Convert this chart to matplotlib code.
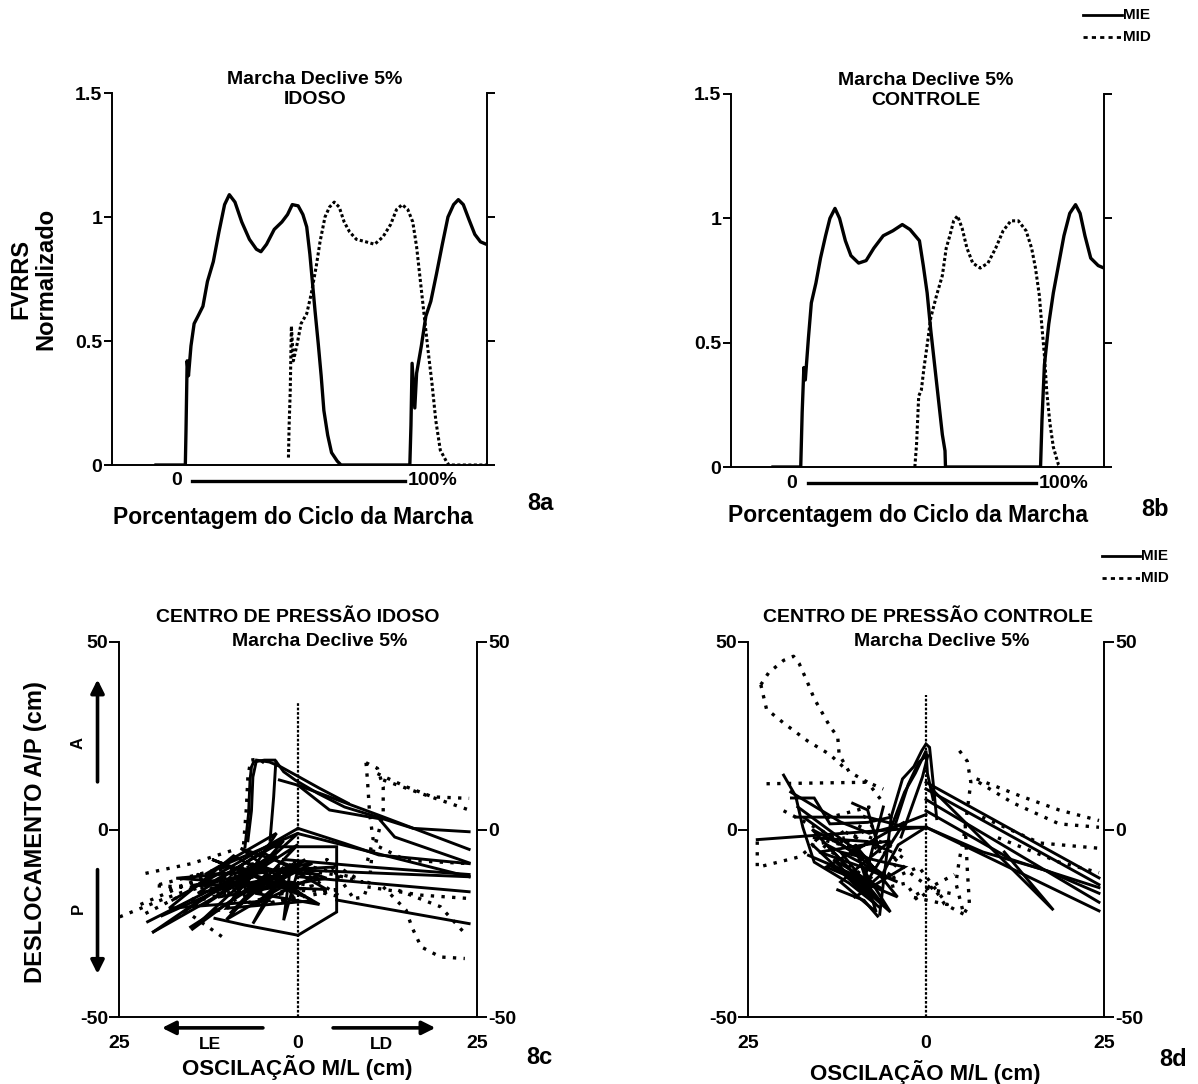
import matplotlib.pyplot as plt
import matplotlib.transforms as mtransforms
from matplotlib.lines import Line2D

plt.rcParams['font.family'] = ['Liberation Sans', 'DejaVu Sans']
plt.rcParams['font.weight'] = 'bold'

W, H = 1198, 1084

# ---------------- 8a : FVRRS normalizado, idoso (x = % do ciclo) ----------------
a_mie_x = [-13, 0, 0.3, 0.8, 1.4, 2.5, 3.9, 5.6, 7.8, 9.8, 12.4, 14.9, 17.4, 19.5, 22,
           25, 28.4, 31.5, 33.5, 36, 39.4, 42.8, 45.3, 47.4, 50, 52.1, 53.8, 55.2, 56.3, 57.5,
           58.9, 60.2, 61.4, 63.1, 64.8, 67.3, 69, 99.5, 100, 100.5, 101.7, 102.5, 104.6, 106.6, 108.8,
           111.3, 113.9, 116.4, 118.9, 121, 123.2, 125.7, 128.3, 130.8, 133.4]
a_mie_y = [0, 0, .14, .42, .36, .48, .57, .60, .64, .74, .82, .94, 1.05, 1.09, 1.06,
           .98, .91, .87, .86, .89, .95, .98, 1.01, 1.05, 1.045, 1.01, .96, .85, .74, .62,
           .49, .36, .22, .12, .05, .016, 0, 0, .16, .41, .23, .37, .48, .60, .66,
           .77, .89, 1.0, 1.05, 1.07, 1.05, .99, .93, .90, .89]
a_mid_x = [45.7, 46, 46.5, 47, 47.9, 49.6, 51.3, 53.8, 55.8, 58, 59.7, 61.9, 63.9, 66, 68.2,
           70.4, 72.8, 75.8, 80, 83.9, 87.6, 91, 93.6, 96.1, 98.6, 100.8, 102.5, 104.2, 105.9, 107.6,
           109.3, 111, 113, 115.6, 116.8, 133.4]
a_mid_y = [.03, .16, .30, .56, .42, .49, .57, .61, .69, .80, .90, 1.0, 1.04, 1.06, 1.04,
           .98, .94, .91, .90, .89, .92, .97, 1.03, 1.05, 1.03, .98, .88, .74, .60, .46,
           .33, .18, .06, .016, 0, 0]

# ---------------- 8b : FVRRS normalizado, controle ----------------
b_mie_x = [-11.5, 0, 0.6, 1.3, 1.9, 3.2, 4.4, 6.3, 8.2, 10.3, 12.1, 14.2, 16.1, 18.5, 20.8,
           24, 27.1, 30.3, 34.2, 38.2, 42.1, 45.3, 49.2, 50.8, 52.4, 53.9, 55.5, 57.1, 58.7, 59.8,
           60, 99.4, 100, 101, 102.8, 104.7, 106.8, 109.1, 111.5, 113.9, 115.8, 117.8, 120.2, 123.3, 125.7]
b_mie_y = [0, 0, .22, .40, .35, .52, .66, .74, .84, .93, 1.0, 1.04, 1.0, .91, .85,
           .82, .83, .88, .93, .95, .975, .955, .91, .81, .70, .55, .41, .27, .13, .065,
           0, 0, .19, .41, .575, .70, .81, .93, 1.02, 1.055, 1.02, .93, .84, .81, .80]
b_mid_x = [47.3, 48, 48.9, 50, 51.1, 52.4, 53.9, 56.3, 58.7, 60.3, 61.8, 63.4, 65, 66.9, 68.9,
           71.3, 74.4, 77.6, 80.8, 83.9, 87.1, 90.2, 93.4, 95.7, 97.3, 98.9, 100, 101, 102, 103.3,
           104.7, 106.8, 107.6]
b_mid_y = [0, .09, .285, .31, .40, .49, .60, .69, .77, .88, .93, .99, 1.01, .96, .88,
           .82, .80, .82, .88, .95, .99, .99, .95, .88, .80, .69, .56, .45, .30, .175,
           .08, .01, 0]

force_yticks = [0, 0.5, 1, 1.5]
force_ylabels = ['0', '0.5', '1', '1.5']

# ---------------- 8c : centro de pressao, idoso (x = M/L, y = A/P, cm) ----------------
c_mie = [
    [(-7.4, -4.6), (-6.9, 4.3), (-6.7, 13.2), (-6.5, 16.7), (-6.2, 18.0), (-4.7, 18.5), (-3.2, 18.5),
     (-2.0, 15.4), (-0.4, 13.2), (2.8, 9.6), (6.5, 6.0), (11.3, 3.2), (16.1, 0.3), (23.9, -0.6)],
    [(-7.0, -3), (-6.5, 5), (-6.3, 14), (-5.8, 18.5), (-4.0, 18.0), (-2.5, 16.8), (-0.3, 14.5), (3, 11), (7, 7)],
    [(-3.1, 18.0), (-3.4, 8.7), (-3.9, -2.8)],
    [(-2.6, 13.2), (0, 11.8), (4.4, 5.2), (11.3, 2.9), (13.5, -2.0), (23.9, -8.9)],
    [(0, 11.8), (11.3, 3.8), (23.9, -5.3)],
    [(0, 0.3), (6.5, -3.7), (11.3, -6.8), (23.9, -9.1)],
    [(0, -1.1), (23.9, -12.6)],
    [(0.1, -10.8), (23.9, -12.6)],
    [(0.1, -12.6), (23.9, -16.6)],
    [(-2, -8), (10, -10), (23.9, -12)],
    [(5.4, -18.8), (23.9, -25.1)],
    [(-4.2, -4.6), (5.4, -4.6), (5.4, -22), (0, -28.2), (-7.4, -25.5), (-11.6, -23.7)],
    [(-20.2, -27.3), (-7.4, -13.5), (-14.9, -26.8), (-4.2, -11.7), (-9.5, -22.4), (-2.0, -10.0),
     (-6.3, -25.1), (-1.0, -9.1), (-2.0, -24.2), (0, -10.8)],
    [(-21, -24.6), (-3.1, -7.3)],
    [(-20.2, -27.3), (-10, -14)],
    [(-15, -26), (-6, -15)],
    [(-17.5, -18.8), (0, 0.3)],
    [(-12, -14), (-2, -3), (-9, -18), (1, -8), (-6, -20), (3, -12), (-11, -10), (0, -1), (-8, -15),
     (4, -16), (-5, -6), (-14, -17), (-1, -12), (-7, -9), (2, -19), (-10, -21), (-3, -1), (-13, -12), (5, -10)],
    [(-16, -22), (-3, -6), (-13, -20), (0, -4), (-10, -24), (-1, -14), (-15, -15), (2, -9), (-6, -17),
     (3, -20), (-9, -7), (-18, -21), (-4, -19)],
    [(-19, -23), (-5, -11), (-17, -13), (-2, -15), (-12, -8), (1, -18), (-8, -5), (4, -13), (-11, -18)],
]
c_mid = [
    [(9.5, 17.8), (11.1, 16.3), (11.9, 11.4), (11.9, 4.3), (11.1, -2.0), (10.3, -7.3), (10.0, -13.5),
     (9.2, -18.0), (7.5, -18.5)],
    [(9.5, 17.8), (9.7, 13.2), (10.0, 4.3), (10.5, -2.8), (9.6, -9)],
    [(11.1, 14.9), (15.1, 11.4), (18.8, 8.7), (23.9, 8.3)],
    [(11.9, 13.2), (17.2, 9.6), (23.9, 5.2)],
    [(11.3, -4.6), (15.1, -8.2), (23.9, -9.1)],
    [(9.7, -15.3), (17.2, -17.5), (23.9, -18.4)],
    [(11.9, -15.3), (15.1, -21.5), (15.9, -26), (17.2, -31.3), (19.9, -34), (23.3, -34.4)],
    [(14, -16.2), (19.9, -20.6), (23.3, -27.7)],
    [(-21.3, -11.7), (-14.9, -9.1), (-8.4, -5.1)],
    [(-24.9, -23.3), (-19.1, -18.8), (-11.6, -13.5), (-4.2, -9.1)],
    [(-21.3, -22.4), (-14.9, -16.2), (-6.8, -10.8)],
    [(-15.9, -21.5), (-10.6, -28.6)],
    [(-18, -16), (-6, -9), (-16, -20), (-4, -14), (-12, -22), (2, -15), (-8, -12), (6, -18), (-2, -8), (8, -13)],
    [(-22, -20), (-10, -10), (-20, -15), (-8, -16), (-14, -12), (0, -18), (-5, -20), (6, -16), (-12, -17)],
    [(-3, -10), (5, -12), (9, -14), (4, -8), (8, -19)],
    [(-7.6, -4), (-7.2, 6), (-7.0, 14), (-6.6, 18.5), (-5.5, 18.8), (-4.5, 17.5)],
]

# ---------------- 8d : centro de pressao, controle ----------------
d_mie = [
    [(-6.5, -22.6), (-4.9, 3.3), (-3.3, 13.5), (-1.7, 16.8), (-0.6, 21), (0, 22.8), (0.5, 21.9),
     (0.75, 17.3), (1.0, 12.6), (1.5, 2.9)],
    [(-4.2, 2), (-2.5, 12), (-1, 18), (0.3, 20), (-0.5, 14), (-2, 6), (-3.5, -2)],
    [(-5, 0), (-3, 10), (-1.5, 15), (0, 21), (0.2, 15), (1, 8)],
    [(0, 12.6), (24.3, -12.9)],
    [(0, 10.8), (24.3, -14.7)],
    [(0, 8), (24.3, -19.4)],
    [(0, 0.6), (24.3, -21.7)],
    [(0, 5), (12, -8), (24.3, -15.5)],
    [(0.8, 10.8), (17.9, -21.5), (11, -6)],
    [(0, 0.6), (8, -6), (17, -11), (24.3, -17)],
    [(-23.7, -2.7), (0, 0.6)],
    [(-20, 14.5), (-18.3, 8.9), (-17.3, 0.6), (-15.7, -8.7), (-10.8, -14.3), (-6.5, -20.8)],
    [(-18.9, 8.4), (-15.7, 8.4), (-13.5, 1.5), (-8.2, 1.9), (-4.9, 3.3)],
    [(-18.3, 3.3), (-8.2, 3.3), (-2.8, 0.6), (0, 0.6)],
    [(-19, 10), (-12, 2), (-8, -1), (-4, 1), (0, 4)],
    [(-16.5, -6.9), (-10.8, -11.5), (-6.5, -18.9)],
    [(-15.7, -2.2), (-8.2, -3.2), (-4.9, -5.9)],
    [(-13.5, -9.6), (-8.2, -15.2), (-6, -11.5), (-3.9, -4.1), (0, 0.6)],
    [(-12.4, -16.1), (-8.7, -18.9), (-6.8, -23.1)],
    [(-10.3, 7), (-8.2, 5.2), (-6.5, -5.9)],
    [(-17, 3), (-6, -12), (-15, -6), (-5, -3), (-12, -14), (-7, -22), (-10, -4), (-4, -18),
     (-14, -10), (-3, 2), (-9, -16), (-6, 6)],
    [(-16, -4), (-7, -20), (-13, -8), (-6, -16), (-11, -12), (-5, -22), (-9, -10), (-4, -14),
     (-14, -4), (-7, -18)],
    [(-18, 6), (-8, -8), (-16, 0), (-6, -20), (-12, -6), (-3, -10), (-10, -18)],
]
d_mid = [
    [(-23.2, 38.6), (-22.1, 41.8), (-20, 45.1), (-18.6, 46.2), (-17.8, 44.2), (-16.7, 39.5), (-15.7, 34.9),
     (-13.5, 27.5), (-12.4, 24.7), (-12.2, 20), (-10.8, 15.4), (-8.2, 12.6), (-6, 7.1)],
    [(-23.2, 38.6), (-22.4, 32.1), (-20, 28.4), (-16.7, 23.7), (-13.5, 20), (-11.4, 16.3)],
    [(-22.4, 12.2), (-8.2, 12.6), (-6, 10.8)],
    [(-23.7, -3.2), (-23.7, -10.1), (-17.8, -7.3), (-15.7, -4.1), (-11.4, -2.2)],
    [(4.7, 21), (5.8, 18.2), (6.3, 12.6), (5.8, 5.2), (5.3, -2.2), (4.7, -7.8), (4.2, -14.3),
     (5.3, -22.6), (6.1, -19.9), (5.8, -10.6), (5.5, 1.5)],
    [(7.1, 13.5), (13.3, 8.9), (18.7, 5.2), (24.3, 2.4)],
    [(7.4, 12.6), (12.2, 7.1), (18.7, 1.5), (24.3, 0.6)],
    [(7.9, 3.3), (16, -3.6), (24.3, -5)],
    [(10.1, -2.2), (18.7, -8.7), (24.3, -11.5)],
    [(-4.9, -15.2), (-2.8, -14.3), (-1.2, -18.9), (1, -15.2), (2.6, -19.9), (5.3, -22.6)],
    [(-4.4, -7.8), (-1.7, -12.4), (1, -16.1), (3.6, -17.1)],
    [(-8, -2), (-3, -6), (-6, -14), (-1, -10), (3, -20), (-2, -18), (4, -12)],
    [(-14, 3), (-8, 6), (-10, -2), (-5, 4)],
    [(-20, 5), (-10, -5), (-16, -2), (-7, -15), (-12, 0), (-4, -8)],
]

centre_x = [0, 0]
c_centre_y = [-50, 34]
d_centre_y = [-50, 36]

cop_ticks = [-50, 0, 50]
cop_ticklabels = ['-50', '0', '50']
ml_ticks = [-25, 0, 25]
ml_ticklabels = ['25', '0', '25']

DOT = (0, (1, 2.2))


def box(l, t, r, b):
    return [l / W, 1 - b / H, (r - l) / W, (b - t) / H]


def figtext(fig, x, y, s, **kw):
    fig.text(x / W, 1 - y / H, s, fontweight='bold', **kw)


def figline(fig, x0, x1, y, ls):
    fig.add_artist(Line2D([x0 / W, x1 / W], [1 - y / H, 1 - y / H], transform=fig.transFigure,
                          color='black', lw=2, ls=ls))


def style_force(ax, xlim):
    ax.set_xlim(xlim)
    ax.set_ylim(0, 1.5)
    ax.spines['top'].set_visible(False)
    for s in ['left', 'right', 'bottom']:
        ax.spines[s].set_linewidth(1.4)
    ax.set_yticks(force_yticks)
    ax.set_yticklabels(force_ylabels)
    ax.tick_params(axis='y', direction='out', length=6, width=1.4, pad=1, labelsize=14,
                   right=True, labelright=False)
    ax.set_xticks([])
    # 0 ---- 100% scale bar under the axis
    tr = mtransforms.blended_transform_factory(ax.transData, ax.transAxes)
    ax.plot([3, 97.5], [-0.043, -0.043], color='black', lw=2.4, transform=tr, clip_on=False)
    ax.text(-1.5, -0.043, '0', transform=tr, ha='right', va='center', fontsize=14, fontweight='bold')
    ax.text(98.5, -0.043, '100%', transform=tr, ha='left', va='center', fontsize=14, fontweight='bold')


def style_cop(ax):
    ax.set_xlim(-25, 25)
    ax.set_ylim(-50, 50)
    ax.spines['top'].set_visible(False)
    for s in ['left', 'right', 'bottom']:
        ax.spines[s].set_linewidth(1.4)
    ax.set_yticks(cop_ticks)
    ax.set_yticklabels(cop_ticklabels)
    ax.tick_params(axis='y', direction='out', length=7, width=1.4, pad=1, labelsize=14,
                   right=True, labelright=True)
    ax.set_xticks(ml_ticks)
    ax.set_xticklabels(ml_ticklabels)
    ax.tick_params(axis='x', length=0, pad=13, labelsize=14)


def draw_cop(ax, mie, mid, centre_y):
    ax.plot(centre_x, centre_y, color='black', lw=1.6, ls=(0, (1.2, 0.8)))
    for pl in mid:
        xs, ys = zip(*pl)
        ax.plot(xs, ys, color='black', lw=2.4, ls=DOT, dash_capstyle='butt')
    for pl in mie:
        xs, ys = zip(*pl)
        ax.plot(xs, ys, color='black', lw=2.1, solid_joinstyle='miter')


fig = plt.figure(figsize=(W / 100, H / 100), dpi=100)

# ---- 8a
ax = fig.add_axes(box(112, 93, 487, 465))
ax.plot(a_mie_x, a_mie_y, color='black', lw=2.4)
ax.plot(a_mid_x, a_mid_y, color='black', lw=2.2, ls=(0, (1, 0.8)))
style_force(ax, (-32.5, 133.7))
ax.text(0.541, 1.009, 'Marcha Declive 5%\nIDOSO', transform=ax.transAxes, ha='center', va='center',
        fontsize=14, fontweight='bold', linespacing=1.2)
ax.text(-0.21, 0.5, 'FVRRS\nNormalizado', transform=ax.transAxes, rotation=90, ha='center', va='center',
        fontsize=17, fontweight='bold', linespacing=1.15)
ax.text(0.483, -0.14, 'Porcentagem do Ciclo da Marcha', transform=ax.transAxes, ha='center', va='center',
        fontsize=16.5, fontweight='bold')

# ---- 8b
ax = fig.add_axes(box(731, 94, 1104, 467))
ax.plot(b_mie_x, b_mie_y, color='black', lw=2.4)
ax.plot(b_mid_x, b_mid_y, color='black', lw=2.2, ls=(0, (1, 0.8)))
style_force(ax, (-28.9, 125.7))
ax.text(0.523, 1.009, 'Marcha Declive 5%\nCONTROLE', transform=ax.transAxes, ha='center', va='center',
        fontsize=14, fontweight='bold', linespacing=1.2)
ax.text(0.475, -0.13, 'Porcentagem do Ciclo da Marcha', transform=ax.transAxes, ha='center', va='center',
        fontsize=16.5, fontweight='bold')

# ---- 8c
ax = fig.add_axes(box(119, 642, 477, 1017))
draw_cop(ax, c_mie, c_mid, c_centre_y)
style_cop(ax)
ax.text(0.5, 1.064, 'CENTRO DE PRESSÃO IDOSO', transform=ax.transAxes, ha='center', va='center',
        fontsize=14, fontweight='bold')
ax.text(0.561, 1.0, 'Marcha Declive 5%', transform=ax.transAxes, ha='center', va='center',
        fontsize=14, fontweight='bold')
ax.text(-0.232, 0.493, 'DESLOCAMENTO A/P (cm)', transform=ax.transAxes, rotation=90, ha='center',
        va='center', fontsize=17, fontweight='bold')
ax.text(0.497, -0.136, 'OSCILAÇÃO M/L (cm)', transform=ax.transAxes, ha='center', va='center',
        fontsize=16, fontweight='bold')
arrow = dict(arrowstyle='-|>', lw=2.6, color='black', mutation_scale=20, shrinkA=0, shrinkB=0)
ax.annotate('', xy=(-28, 40), xytext=(-28, 12.7), arrowprops=arrow, annotation_clip=False)
ax.annotate('', xy=(-28, -38.5), xytext=(-28, -10.7), arrowprops=arrow, annotation_clip=False)
ax.text(-30.7, 23, 'A', rotation=90, ha='center', va='center', fontsize=12, fontweight='bold', clip_on=False)
ax.text(-30.7, -21, 'P', rotation=90, ha='center', va='center', fontsize=12, fontweight='bold', clip_on=False)
ax.annotate('', xy=(-19, -52.9), xytext=(-4.9, -52.9), arrowprops=arrow, annotation_clip=False)
ax.annotate('', xy=(19.2, -52.9), xytext=(4.9, -52.9), arrowprops=arrow, annotation_clip=False)
ax.text(-12.3, -57.4, 'LE', ha='center', va='center', fontsize=12.5, fontweight='bold', clip_on=False)
ax.text(11.7, -57.4, 'LD', ha='center', va='center', fontsize=12.5, fontweight='bold', clip_on=False)

# ---- 8d
ax = fig.add_axes(box(748, 642, 1104, 1017))
draw_cop(ax, d_mie, d_mid, d_centre_y)
style_cop(ax)
ax.text(0.506, 1.064, 'CENTRO DE PRESSÃO CONTROLE', transform=ax.transAxes, ha='center', va='center',
        fontsize=14, fontweight='bold')
ax.text(0.545, 1.0, 'Marcha Declive 5%', transform=ax.transAxes, ha='center', va='center',
        fontsize=14, fontweight='bold')
ax.text(0.497, -0.147, 'OSCILAÇÃO M/L (cm)', transform=ax.transAxes, ha='center', va='center',
        fontsize=16, fontweight='bold')

# ---- panel tags
figtext(fig, 540, 503, '8a', fontsize=17, ha='center', va='center')
figtext(fig, 1155, 510, '8b', fontsize=17, ha='center', va='center')
figtext(fig, 539, 1057, '8c', fontsize=17, ha='center', va='center')
figtext(fig, 1173, 1060, '8d', fontsize=17, ha='center', va='center')

# ---- legends
figline(fig, 1083, 1122, 15, '-')
figtext(fig, 1123, 15, 'MIE', fontsize=11, ha='left', va='center')
figline(fig, 1083, 1122, 37, (0, (1.5, 1.5)))
figtext(fig, 1123, 37, 'MID', fontsize=11, ha='left', va='center')
figline(fig, 1102, 1140, 556, '-')
figtext(fig, 1141, 556, 'MIE', fontsize=11, ha='left', va='center')
figline(fig, 1102, 1140, 578, (0, (1.5, 1.5)))
figtext(fig, 1141, 578, 'MID', fontsize=11, ha='left', va='center')

fig.savefig('out.png', dpi=100)
